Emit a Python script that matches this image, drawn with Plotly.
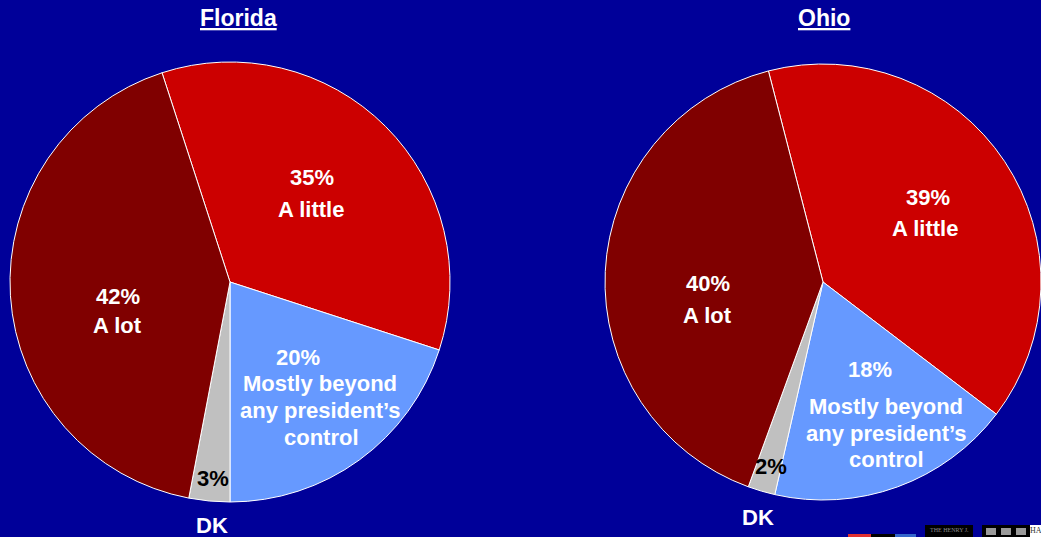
import plotly.graph_objects as go

# ---- data ----
categories = ["A little", "Mostly beyond any president\u2019s control", "DK", "A lot"]
florida_values = [35, 20, 3, 42]
ohio_values = [39, 18, 2, 40]
label_lines = [["A little"], ["Mostly beyond", "any president\u2019s", "control"], ["DK"], ["A lot"]]
titles = ["Florida", "Ohio"]

# ---- style ----
colors = ["#CC0000", "#6699FF", "#C0C0C0", "#800000"]
BG = "#000099"
W, H = 1041, 537
FONT = "Liberation Sans, Arial, sans-serif"


def px(x, y):
    return x / W, 1 - y / H


fig = go.Figure()
pie_domains = [
    dict(x=[10 / W, 450 / W], y=[1 - 502 / H, 1 - 62 / H]),
    dict(x=[605 / W, 1041 / W], y=[1 - 500 / H, 1 - 64 / H]),
]
rotations = [-18, -14.5]
for vals, dom, rot, name in zip([florida_values, ohio_values], pie_domains, rotations, titles):
    fig.add_trace(go.Pie(
        labels=categories, values=vals, name=name, domain=dom, rotation=rot,
        sort=False, direction="clockwise", textinfo="none", hoverinfo="label+percent",
        marker=dict(colors=colors, line=dict(color="white", width=1)),
        showlegend=False,
    ))

annotations = []
# titles
for t, (x, y) in zip(titles, [(238, 18), (824, 18)]):
    ax, ay = px(x, y)
    annotations.append(dict(x=ax, y=ay, xref="paper", yref="paper", showarrow=False,
                            text=f"<u>{t}</u>", font=dict(family=FONT, size=23, color="white", weight="bold"),
                            xanchor="center", yanchor="middle"))

# label positions (pixel centres) per pie: [pct, line1, line2, ...] per category
label_pos = [
    [  # Florida
        [(312, 177), (311, 210)],
        [(298, 357), (320, 383), (320, 410), (321, 437)],
        [(213, 478), (212, 525)],
        [(118, 296), (117, 325)],
    ],
    [  # Ohio
        [(928, 197), (925, 229)],
        [(870, 369), (886, 406), (886, 433), (886, 459)],
        [(771, 466), (758, 517)],
        [(708, 283), (707, 315)],
    ],
]
for vals, positions in zip([florida_values, ohio_values], label_pos):
    for i, v in enumerate(vals):
        texts = [f"{v}%"] + label_lines[i]
        for j, (txt, (x, y)) in enumerate(zip(texts, positions[i])):
            col = "black" if (categories[i] == "DK" and j == 0) else "white"
            ax, ay = px(x, y)
            annotations.append(dict(x=ax, y=ay, xref="paper", yref="paper", showarrow=False,
                                    text=txt, font=dict(family=FONT, size=22, color=col, weight="bold"),
                                    xanchor="center", yanchor="middle"))

# footer logos (decorative)
shapes = []
for x0, x1, y0, y1, c in [(848, 871, 534, 537, "#E03030"), (871, 895, 534, 537, "#000000"),
                          (895, 916, 534, 537, "#3366CC"), (925, 973, 525, 537, "#000000"),
                          (982, 1030, 525, 537, "#000000"), (1030, 1041, 525, 537, "#FFFFFF")]:
    shapes.append(dict(type="rect", xref="paper", yref="paper", x0=x0 / W, x1=x1 / W,
                       y0=1 - y1 / H, y1=1 - y0 / H, fillcolor=c, line=dict(width=0), layer="above"))
for x0 in (986, 1001, 1016):
    shapes.append(dict(type="rect", xref="paper", yref="paper", x0=x0 / W, x1=(x0 + 10) / W,
                       y0=1 - 535 / H, y1=1 - 528 / H, fillcolor="#9A9A9A", line=dict(width=0), layer="above"))
for txt, x, col, sz in [("THE HENRY J.", 949, "#8A8A8A", 6), ("HA", 1036, "#333333", 8)]:
    ax, ay = px(x, 530)
    annotations.append(dict(x=ax, y=ay, xref="paper", yref="paper", showarrow=False, text=txt,
                            font=dict(family="Liberation Serif, serif", size=sz, color=col),
                            xanchor="center", yanchor="middle"))

fig.update_layout(
    width=W, height=H, margin=dict(l=0, r=0, t=0, b=0),
    paper_bgcolor=BG, plot_bgcolor=BG,
    annotations=annotations, shapes=shapes,
)
fig.write_html("out.html", config={"displayModeBar": False},
               post_script="document.body.style.margin='0px';document.body.style.overflow='hidden';")
